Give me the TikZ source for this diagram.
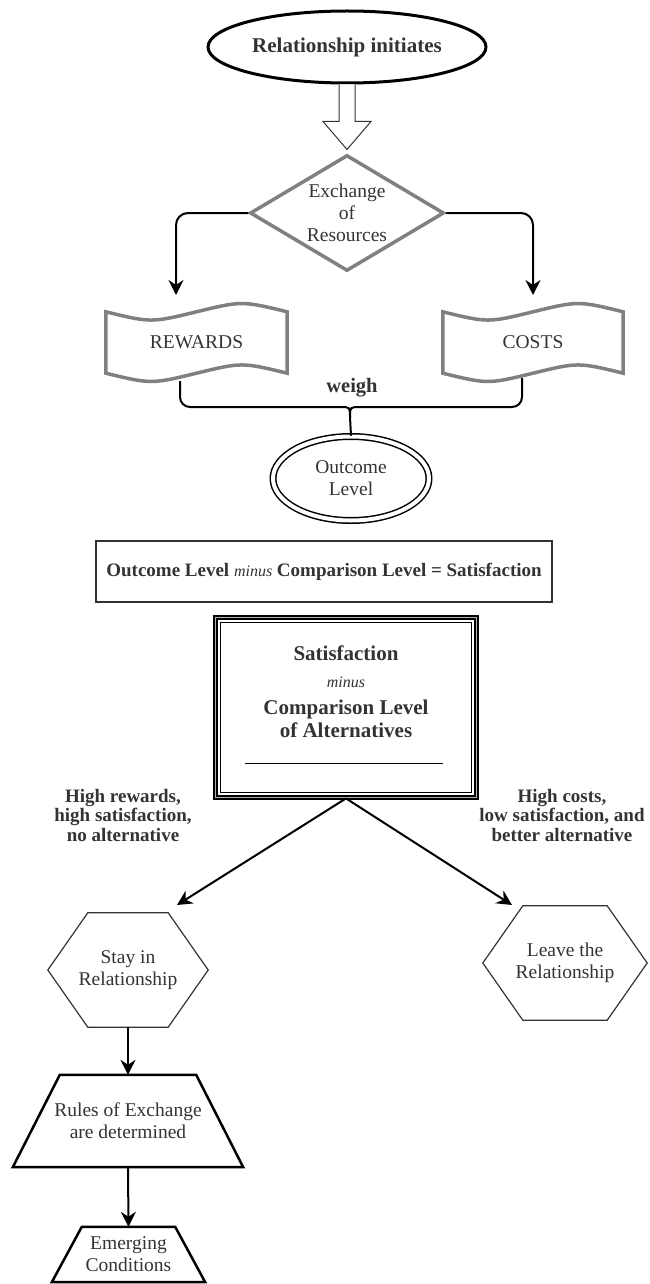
\documentclass[tikz,border=0pt]{standalone}
\usepackage{fontspec}
\setmainfont{Liberation Serif}
\usetikzlibrary{shapes.geometric,arrows.meta,calc}
\definecolor{txt}{HTML}{333333}
\definecolor{gborder}{HTML}{808080}
\newcommand{\tapeshape}[1]{%
  \draw[tapeline] (#1.north west)
    .. controls ($(#1.north west)!0.25!(#1.north east)+(0,11)$) .. (#1.north)
    .. controls ($(#1.north west)!0.75!(#1.north east)+(0,-11)$) .. (#1.north east)
    -- (#1.south east)
    .. controls ($(#1.south west)!0.75!(#1.south east)+(0,-11)$) .. (#1.south)
    .. controls ($(#1.south west)!0.25!(#1.south east)+(0,11)$) .. (#1.south west)
    -- cycle;}
\newcommand{\hexshape}[1]{%
  \draw[hexline] (#1.west) -- ($(#1.north west)+(40,0)$) -- ($(#1.north east)+(-40,0)$)
    -- (#1.east) -- ($(#1.south east)+(-40,0)$) -- ($(#1.south west)+(40,0)$) -- cycle;}
\newcommand{\trapshape}[2]{%
  \draw[trapline] ($(#1.north west)+(#2,0)$) -- ($(#1.north east)+(-#2,0)$)
    -- (#1.south east) -- (#1.south west) -- cycle;}
\begin{document}
\begin{tikzpicture}[x=1pt,y=-1pt,
  every node/.style={text=txt, font=\fontsize{19.5}{22}\selectfont, align=center, inner sep=0pt},
  bfont/.style={font=\fontsize{21}{23}\selectfont\bfseries},
  lbl/.style={font=\fontsize{19}{19.5}\selectfont\bfseries},
  conn/.style={line width=2pt, draw=black, -{Stealth[length=15pt,width=15pt,inset=5pt]}},
  plain/.style={line width=2pt, draw=black},
  tapeline/.style={line width=3.5pt, draw=gborder},
  hexline/.style={line width=1.2pt, draw=txt},
  trapline/.style={line width=2.5pt, draw=black, line join=miter},
]
\useasboundingbox (0,0) rectangle (650,1284);

% top ellipse
\node[ellipse, draw=black, line width=3pt, minimum width=278pt, minimum height=72pt, bfont] (init) at (347,47) {Relationship initiates};

% hollow arrow
\draw[line width=1pt, draw=txt, fill=white, line join=miter]
  ($(init.south)+(-8,0)$) -- ++(0,37) -- ++(-16,0) -- ($(init.south)+(0,65)$)
  -- ($(init.south)+(24,37)$) -- ++(-16,0) -- ($(init.south)+(8,0)$);

% diamond
\node[diamond, draw=gborder, line width=3.5pt, aspect=1.67, minimum width=194pt, minimum height=116pt] (exch) at (347,213) {Exchange\\of\\Resources};

% tapes
\node[minimum width=181pt, minimum height=61pt] (rew) at (196.5,342.5) {REWARDS};
\node[minimum width=180pt, minimum height=61pt] (cost) at (533,342.5) {COSTS};
\tapeshape{rew}
\tapeshape{cost}

\coordinate (aL) at (176,295);
\coordinate (aR) at (533,295);
\draw[conn, rounded corners=12pt] (exch.west) -| (aL);
\draw[conn, rounded corners=12pt] (exch.east) -| (aR);

% brace
\node[minimum width=156pt, minimum height=84pt, ellipse, draw=black, line width=1.5pt, double=white, double distance=4pt] (outc) at (351,478.5) {Outcome\\Level};
\coordinate (rb) at (180,381);
\coordinate (cb) at (522,378);
\coordinate (bl) at (340,407);
\coordinate (br) at (360,407);
\coordinate (bc) at (350,407);
\coordinate (bs) at (350,417);
\draw[plain, rounded corners=10pt] (rb) |- (bl);
\draw[plain, rounded corners=10pt] (cb) |- (br);
\draw[plain] (bl) .. controls (bc) .. (bs);
\draw[plain] (br) .. controls (bc) .. (bs);
\draw[plain] (bs) -- (outc.north);
\node[font=\fontsize{20.5}{22}\selectfont\bfseries] (weigh) at (352,388) {weigh};

% equation box
\node[draw=txt, line width=1.5pt, minimum width=456pt, minimum height=61pt, font=\fontsize{19}{22}\selectfont\bfseries] (eq) at (324,571.5) {Outcome Level {\fontsize{16}{16}\selectfont\mdseries\itshape minus} Comparison Level = Satisfaction};

% satisfaction box
\node[draw=black, line width=1.8pt, double=gray!60, double distance=1.5pt, minimum width=261pt, minimum height=180pt] (sat) at (346,707.5) {};
\draw[line width=1.5pt, black] ($(sat.north west)+(6,6)$) rectangle ($(sat.south east)+(-6,-6)$);
\node[bfont] (s1) at (346,653) {Satisfaction};
\node[font=\fontsize{16}{16}\selectfont\itshape] (s2) at (346,682) {minus};
\node[bfont] (s3) at (346,718.5) {Comparison Level\\of Alternatives};
\draw[line width=1.2pt, black] ($(sat.south west)+(30,-35)$) -- ($(sat.south east)+(-34,-35)$);

% branch arrows
\coordinate (tipL) at (177,905);
\coordinate (tipR) at (512,905);
\draw[conn] (sat.south) -- (tipL);
\draw[conn] (sat.south) -- (tipR);
\node[lbl] (labL) at (123,815) {High rewards,\\high satisfaction,\\no alternative};
\node[lbl] (labR) at (562,815) {High costs,\\low satisfaction, and\\better alternative};

% hexagons
\node[minimum width=160pt, minimum height=114pt] (stay) at (128,970) {Stay in\\Relationship};
\node[minimum width=164pt, minimum height=114pt] (leave) at (565,963) {Leave the\\Relationship};
\hexshape{stay}
\hexshape{leave}

% trapezoids
\node[minimum width=230pt, minimum height=92pt] (rules) at (128,1121) {Rules of Exchange\\are determined};
\trapshape{rules}{47}
\node[minimum width=153pt, minimum height=55pt] (emerg) at (128.5,1254.5) {Emerging\\Conditions};
\trapshape{emerg}{30}

\draw[conn] (stay.south) -- (rules.north);
\draw[conn] (rules.south) -- (emerg.north);
\end{tikzpicture}
\end{document}
